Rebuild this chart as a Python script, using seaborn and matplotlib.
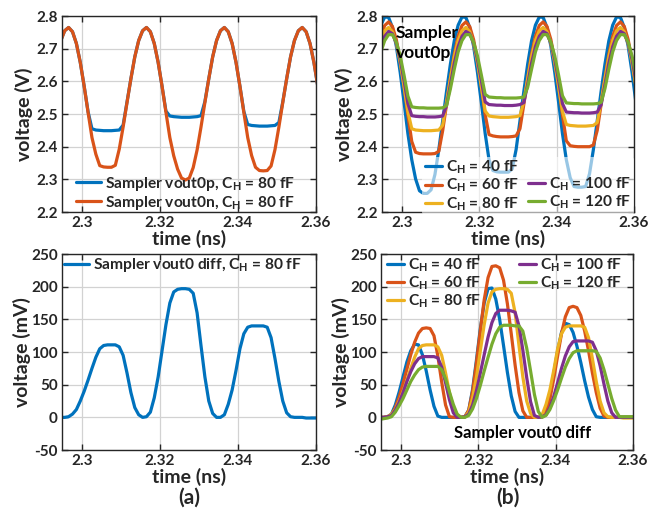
import matplotlib
matplotlib.use("Agg")
import matplotlib.pyplot as plt
from matplotlib.lines import Line2D
import seaborn as sns

sns.set_style("whitegrid")
plt.rcParams['font.family'] = ['Lato', 'DejaVu Sans']
plt.rcParams['font.weight'] = 'bold'
plt.rcParams['axes.labelweight'] = 'bold'
plt.rcParams['mathtext.fontset'] = 'custom'
plt.rcParams['mathtext.rm'] = 'Lato:bold'
plt.rcParams['mathtext.it'] = 'Lato:bold'
plt.rcParams['mathtext.bf'] = 'Lato:bold'

# time axis (ns), sampled every 1 ps
time_ns = [2.2935, 2.2945, 2.2955, 2.2965, 2.2975, 2.2985, 2.2995, 2.3005, 2.3015, 2.3025,
           2.3035, 2.3045, 2.3055, 2.3065, 2.3075, 2.3085, 2.3095, 2.3105, 2.3115, 2.3125,
           2.3135, 2.3145, 2.3155, 2.3165, 2.3175, 2.3185, 2.3195, 2.3205, 2.3215, 2.3225,
           2.3235, 2.3245, 2.3255, 2.3265, 2.3275, 2.3285, 2.3295, 2.3305, 2.3315, 2.3325,
           2.3335, 2.3345, 2.3355, 2.3365, 2.3375, 2.3385, 2.3395, 2.3405, 2.3415, 2.3425,
           2.3435, 2.3445, 2.3455, 2.3465, 2.3475, 2.3485, 2.3495, 2.3505, 2.3515, 2.3525,
           2.3535, 2.3545, 2.3555, 2.3565, 2.3575, 2.3585, 2.3595, 2.3605]

# sampler outputs (V)
vout0p_80 = [2.675, 2.725, 2.755, 2.765, 2.752, 2.716, 2.658, 2.585, 2.507, 2.455,
             2.451, 2.450, 2.449, 2.449, 2.449, 2.450, 2.451, 2.466, 2.537, 2.608,
             2.675, 2.725, 2.755, 2.765, 2.752, 2.716, 2.658, 2.585, 2.509, 2.494,
             2.492, 2.491, 2.490, 2.490, 2.490, 2.491, 2.492, 2.495, 2.538, 2.608,
             2.675, 2.725, 2.755, 2.765, 2.752, 2.716, 2.658, 2.585, 2.508, 2.468,
             2.465, 2.464, 2.463, 2.463, 2.463, 2.464, 2.465, 2.474, 2.537, 2.608,
             2.675, 2.725, 2.755, 2.765, 2.752, 2.716, 2.658, 2.585]
vout0n_80 = [2.675, 2.725, 2.755, 2.765, 2.752, 2.716, 2.658, 2.585, 2.505, 2.428,
             2.377, 2.342, 2.338, 2.337, 2.337, 2.343, 2.392, 2.460, 2.535, 2.608,
             2.675, 2.725, 2.755, 2.765, 2.752, 2.716, 2.658, 2.585, 2.505, 2.428,
             2.372, 2.331, 2.304, 2.298, 2.304, 2.336, 2.390, 2.460, 2.535, 2.608,
             2.675, 2.725, 2.755, 2.765, 2.752, 2.716, 2.658, 2.585, 2.505, 2.428,
             2.373, 2.337, 2.327, 2.326, 2.327, 2.341, 2.391, 2.460, 2.535, 2.608,
             2.675, 2.725, 2.755, 2.765, 2.752, 2.716, 2.658, 2.585]
vout0p_40 = [2.724, 2.772, 2.797, 2.796, 2.765, 2.708, 2.628, 2.536, 2.440, 2.360,
             2.301, 2.265, 2.257, 2.257, 2.268, 2.315, 2.391, 2.479, 2.569, 2.653,
             2.724, 2.772, 2.797, 2.796, 2.765, 2.708, 2.628, 2.536, 2.440, 2.360,
             2.327, 2.323, 2.322, 2.322, 2.322, 2.332, 2.391, 2.479, 2.569, 2.653,
             2.724, 2.772, 2.797, 2.796, 2.765, 2.708, 2.628, 2.536, 2.440, 2.360,
             2.305, 2.278, 2.276, 2.276, 2.278, 2.317, 2.391, 2.479, 2.569, 2.653,
             2.724, 2.772, 2.797, 2.796, 2.765, 2.708, 2.628, 2.536]
vout0p_60 = [2.683, 2.738, 2.771, 2.782, 2.768, 2.728, 2.665, 2.584, 2.497, 2.416,
             2.383, 2.379, 2.378, 2.378, 2.378, 2.379, 2.386, 2.449, 2.529, 2.610,
             2.683, 2.738, 2.771, 2.782, 2.768, 2.728, 2.665, 2.584, 2.498, 2.437,
             2.433, 2.431, 2.430, 2.430, 2.430, 2.431, 2.433, 2.455, 2.529, 2.610,
             2.683, 2.738, 2.771, 2.782, 2.768, 2.728, 2.665, 2.584, 2.497, 2.418,
             2.403, 2.401, 2.400, 2.400, 2.400, 2.400, 2.405, 2.450, 2.529, 2.610,
             2.683, 2.738, 2.771, 2.782, 2.768, 2.728, 2.665, 2.584]
vout0p_100 = [2.655, 2.706, 2.738, 2.753, 2.746, 2.717, 2.668, 2.603, 2.532, 2.495,
              2.493, 2.492, 2.492, 2.491, 2.491, 2.491, 2.492, 2.494, 2.526, 2.590,
              2.655, 2.706, 2.738, 2.753, 2.746, 2.717, 2.668, 2.603, 2.537, 2.529,
              2.528, 2.527, 2.527, 2.526, 2.526, 2.526, 2.527, 2.529, 2.535, 2.591,
              2.655, 2.706, 2.738, 2.753, 2.746, 2.717, 2.668, 2.603, 2.532, 2.506,
              2.505, 2.504, 2.504, 2.503, 2.503, 2.503, 2.504, 2.506, 2.528, 2.590,
              2.655, 2.706, 2.738, 2.753, 2.746, 2.717, 2.668, 2.603]
vout0p_120 = [2.637, 2.690, 2.725, 2.743, 2.743, 2.720, 2.678, 2.619, 2.555, 2.522,
              2.520, 2.519, 2.519, 2.518, 2.518, 2.518, 2.518, 2.519, 2.526, 2.577,
              2.637, 2.690, 2.725, 2.743, 2.743, 2.720, 2.678, 2.620, 2.560, 2.552,
              2.551, 2.550, 2.550, 2.549, 2.549, 2.549, 2.549, 2.550, 2.552, 2.582,
              2.637, 2.690, 2.725, 2.743, 2.743, 2.720, 2.678, 2.619, 2.556, 2.534,
              2.533, 2.532, 2.532, 2.531, 2.531, 2.531, 2.531, 2.532, 2.536, 2.578,
              2.637, 2.690, 2.725, 2.743, 2.743, 2.720, 2.678, 2.619]

# differential output (mV)
diff_80 = [0, 0, 0, 1, 5, 12, 25, 40, 57, 75,
           92, 105, 110, 111, 111, 111, 108, 95, 68, 38,
           15, 4, 0, 1, 8, 30, 62, 102, 142, 175,
           192, 196, 197, 197, 196, 190, 160, 110, 62, 25,
           6, 0, 0, 4, 20, 42, 72, 105, 128, 138,
           140, 140, 140, 140, 138, 122, 90, 55, 25, 7,
           1, 0, 0, 0, -1, -1, -1, -1]
diff_40 = [0, 0, 0, 1, 5, 19, 39, 62, 85, 102,
           112, 111, 96, 71, 42, 17, 2, 0, 0, 0,
           0, 0, 0, 1, 11, 43, 88, 136, 175, 197,
           198, 181, 150, 110, 69, 33, 9, 0, 0, 0,
           0, 0, 0, 1, 9, 33, 67, 102, 130, 144,
           142, 130, 109, 84, 56, 31, 12, 1, 0, 0,
           0, 0, 0, 0, 0, 0, 0, 0]
diff_60 = [0, 0, 0, 1, 4, 15, 31, 52, 74, 96,
           115, 129, 136, 137, 136, 125, 94, 54, 19, 1,
           0, 0, 0, 1, 11, 40, 84, 133, 180, 214,
           231, 232, 229, 210, 174, 128, 80, 38, 10, 0,
           0, 0, 0, 1, 7, 28, 59, 94, 128, 154,
           168, 170, 168, 156, 132, 102, 68, 38, 14, 2,
           0, 0, 0, 0, 0, 0, 0, 0]
diff_100 = [0, 0, 0, 1, 3, 11, 23, 38, 55, 70,
            82, 90, 93, 93, 93, 93, 91, 77, 53, 27,
            7, 0, 0, 1, 5, 19, 41, 68, 96, 123,
            145, 159, 164, 164, 164, 163, 161, 140, 103, 61,
            24, 3, 0, 1, 4, 15, 32, 53, 75, 94,
            108, 116, 117, 117, 117, 117, 115, 102, 79, 51,
            25, 7, 0, 0, 0, 0, 0, 0]
diff_120 = [-3, -3, -2, -1, 1, 8, 18, 29, 42, 55,
            65, 73, 77, 78, 78, 78, 78, 73, 59, 39,
            20, 5, 0, 0, 3, 13, 29, 49, 71, 92,
            112, 128, 138, 141, 141, 141, 140, 140, 132, 106,
            71, 35, 9, 0, 3, 12, 26, 42, 60, 77,
            90, 99, 102, 102, 102, 102, 102, 101, 91, 73,
            51, 29, 11, 1, 1, 1, 1, 1]

ch_labels = ['C$_{\\rm H}$ = 40 fF', 'C$_{\\rm H}$ = 60 fF', 'C$_{\\rm H}$ = 80 fF',
             'C$_{\\rm H}$ = 100 fF', 'C$_{\\rm H}$ = 120 fF']
x_ticks = [2.3, 2.32, 2.34, 2.36]
x_ticklabels = ['2.3', '2.32', '2.34', '2.36']
v_ticks = [2.2, 2.3, 2.4, 2.5, 2.6, 2.7, 2.8]
mv_ticks = [-50, 0, 50, 100, 150, 200, 250]

# MATLAB default colours
c_blue, c_orange, c_yellow, c_purple, c_green = '#0072BD', '#D95319', '#EDB120', '#7E2F8E', '#77AC30'
ch_colors = [c_blue, c_orange, c_yellow, c_purple, c_green]

fig = plt.figure(figsize=(6.51, 5.19), dpi=100)
ax_tl = fig.add_axes([0.0952, 0.5915, 0.390, 0.3776])
ax_tr = fig.add_axes([0.5868, 0.5915, 0.387, 0.3776])
ax_bl = fig.add_axes([0.0952, 0.1329, 0.390, 0.3776])
ax_br = fig.add_axes([0.5853, 0.1329, 0.387, 0.3776])

LW = 2.3


def draw(ax, series, colors):
    for vals, col in zip(series, colors):
        sns.lineplot(x=time_ns, y=vals, ax=ax, color=col, linewidth=LW, legend=False)


draw(ax_tl, [vout0p_80, vout0n_80], [c_blue, c_orange])
draw(ax_tr, [vout0p_40, vout0p_60, vout0p_80, vout0p_100, vout0p_120], ch_colors)
draw(ax_bl, [diff_80], [c_blue])
draw(ax_br, [diff_40, diff_60, diff_80, diff_100, diff_120], ch_colors)

for ax in [ax_tl, ax_tr, ax_bl, ax_br]:
    ax.set_xlim(2.2948, 2.36)
    ax.set_xticks(x_ticks, x_ticklabels)
    ax.grid(True, color='#d2d2d2', linewidth=0.9)
    for sp in ax.spines.values():
        sp.set_color('#262626')
        sp.set_linewidth(1.0)
    ax.tick_params(direction='in', length=4, width=1, colors='#262626',
                   labelsize=11, pad=3, top=True, right=True, bottom=True, left=True)
    ax.set_xlabel('time (ns)', fontsize=14, color='#262626', labelpad=0)

for ax in [ax_tl, ax_tr]:
    ax.set_ylim(2.2, 2.8)
    ax.set_yticks(v_ticks, [f'{v:.1f}' for v in v_ticks])
    ax.set_ylabel('voltage (V)', fontsize=14, color='#262626', labelpad=2)
for ax in [ax_bl, ax_br]:
    ax.set_ylim(-50, 250)
    ax.set_yticks(mv_ticks, [str(v) for v in mv_ticks])
    ax.set_ylabel('voltage (mV)', fontsize=14, color='#262626', labelpad=0)

leg_kw = dict(fontsize=11.2, borderaxespad=0, borderpad=0.15, labelspacing=0.05, handletextpad=0.25)

ax_tl.legend(handles=ax_tl.lines[:2],
             labels=['Sampler vout0p, C$_{\\rm H}$ = 80 fF', 'Sampler vout0n, C$_{\\rm H}$ = 80 fF'],
             loc='lower left', bbox_to_anchor=(0.045, -0.01), handlelength=1.6,
             frameon=False, **leg_kw)

blank = Line2D([], [], color='none')
tr_lines = ax_tr.lines[:5]
ax_tr.legend(handles=tr_lines[:3] + [blank] + tr_lines[3:],
             labels=ch_labels[:3] + [' '] + ch_labels[3:],
             ncol=2, columnspacing=0.6, loc='lower left', bbox_to_anchor=(0.16, -0.015),
             handlelength=1.1, frameon=True, framealpha=0.6, facecolor='white',
             edgecolor='none', **leg_kw)
ax_tr.text(0.055, 0.955, 'Sampler\nvout0p', transform=ax_tr.transAxes, ha='left', va='top',
           fontsize=12.5, linespacing=1.35, color='black')

ax_bl.legend(handles=ax_bl.lines[:1], labels=['Sampler vout0 diff, C$_{\\rm H}$ = 80 fF'],
             loc='upper left', bbox_to_anchor=(0.0, 1.0), handlelength=1.6,
             frameon=False, **leg_kw)

ax_br.legend(handles=ax_br.lines[:5], labels=ch_labels, ncol=2, columnspacing=2.4,
             loc='upper left', bbox_to_anchor=(0.015, 1.0), handlelength=1.1,
             frameon=False, **leg_kw)
ax_br.text(0.56, 0.087, 'Sampler vout0 diff', transform=ax_br.transAxes, ha='center', va='center',
           fontsize=12, color='black')

fig.text(0.29, 0.042, '(a)', ha='center', va='center', fontsize=15, color='#262626')
fig.text(0.78, 0.042, '(b)', ha='center', va='center', fontsize=15, color='#262626')

fig.savefig('out.png', dpi=100)
